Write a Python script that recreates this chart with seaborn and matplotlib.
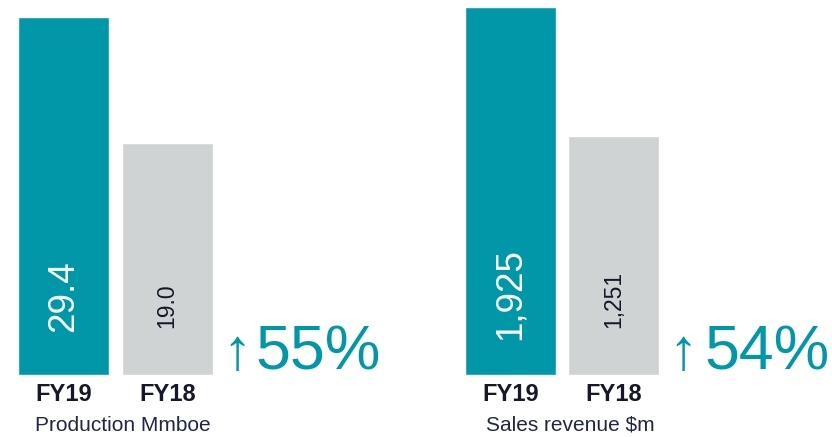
import matplotlib
matplotlib.use("Agg")
import matplotlib.pyplot as plt
import matplotlib.transforms as mtransforms
import seaborn as sns

# ---- data ----
categories = ["FY19", "FY18"]
production = [29.4, 19.0]
revenue = [1925, 1251]
production_labels = ["29.4", "19.0"]
revenue_labels = ["1,925", "1,251"]
changes = ["55%", "54%"]
titles = ["Production Mmboe", "Sales revenue $m"]

TEAL = "#0098A9"
GRAY = "#D0D3D4"
DARK = "#15172A"
NAVY = "#1E2745"

sns.set_theme(style="white")
plt.rcParams["font.family"] = ["Liberation Sans", "DejaVu Sans"]

W, H = 832, 437
fig = plt.figure(figsize=(W / 100, H / 100), dpi=100)

panels = [
    dict(left=12.1, values=production, labels=production_labels, ymax=30.77,
         change=changes[0], title=titles[0], label_off=[0.1147, 0.125],
         big=26.5, arrow_x=222, pct_x=255, title_x=35),
    dict(left=458.6, values=revenue, labels=revenue_labels, ymax=1960,
         change=changes[1], title=titles[1], label_off=[0.0933, 0.125],
         big=26.5, arrow_x=668, pct_x=704, title_x=486),
]

axw = 206.8
for p in panels:
    ax = fig.add_axes([p["left"] / W, 1 - 375 / H, axw / W, 375 / H])
    sns.barplot(x=categories, y=p["values"], hue=categories,
                palette=[TEAL, GRAY], width=0.88, saturation=1,
                legend=False, ax=ax)
    ax.set_xlim(-0.5, 1.5)
    ax.set_ylim(0, p["ymax"])
    for s in ax.spines.values():
        s.set_visible(False)
    ax.set_yticks([])
    ax.set_ylabel("")
    ax.tick_params(axis="x", length=0, pad=6)
    ax.set_xticks(range(len(categories)))
    ax.set_xticklabels(categories, fontsize=17, fontweight="bold", color=DARK)

    trans = mtransforms.blended_transform_factory(ax.transData, ax.transAxes)
    for i, lab in enumerate(p["labels"]):
        if i == 0:
            ax.text(i, p["label_off"][i], lab, transform=trans, rotation=90,
                    ha="center", va="bottom", color="white", fontsize=p["big"])
        else:
            ax.text(i, p["label_off"][i], lab, transform=trans, rotation=90,
                    ha="center", va="bottom", color=DARK, fontsize=16.5)

    by = (375 - 369) / 375
    ax.text((p["arrow_x"] - p["left"]) / axw, by, "\u2191", transform=ax.transAxes,
            ha="left", va="baseline", color=TEAL, fontsize=42, clip_on=False)
    ax.text((p["pct_x"] - p["left"]) / axw, by, p["change"], transform=ax.transAxes,
            ha="left", va="baseline", color=TEAL, fontsize=45, clip_on=False)
    ax.text((p["title_x"] - p["left"]) / axw, (375 - 431) / 375, p["title"],
            transform=ax.transAxes, ha="left", va="baseline", color=NAVY,
            fontsize=15, clip_on=False)

fig.savefig("out.png", dpi=100)
